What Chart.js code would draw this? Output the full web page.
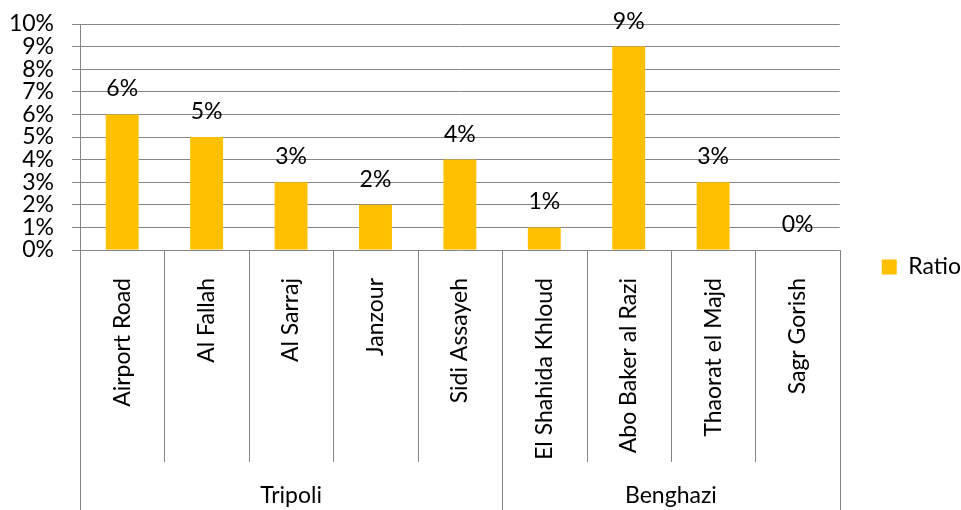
<!DOCTYPE html>
<html>
<head>
<meta charset="utf-8">
<script src="https://cdn.jsdelivr.net/npm/chart.js@4/dist/chart.umd.min.js"></script>
<style>
  html, body { margin: 0; padding: 0; background: #fff; }
  #wrap { width: 961px; height: 510px; }
</style>
</head>
<body>
<div id="wrap"><canvas id="c"></canvas></div>
<script>
// Districts, their share, and the city each block of districts belongs to
const categories = ['Airport Road', 'Al Fallah', 'Al Sarraj', 'Janzour', 'Sidi Assayeh',
                    'El Shahida Khloud', 'Abo Baker al Razi', 'Thaorat el Majd', 'Sagr Gorish'];
const ratioValues = [6, 5, 3, 2, 4, 1, 9, 3, 0];
const cityNames = ['Tripoli', 'Benghazi'];
const cityCounts = [5, 4];
const yTickValues = [0, 1, 2, 3, 4, 5, 6, 7, 8, 9, 10];

const FONT = 'Lato';
const FONT_SIZE = 23;
const GRID = '#868686';
const BAR = '#FFC000';
const LABEL_BAND = 212;   // height of the district-name band under the axis

// Value labels above each bar
const valueLabels = {
  id: 'valueLabels',
  afterDatasetsDraw(chart) {
    const { ctx } = chart;
    const meta = chart.getDatasetMeta(0);
    ctx.save();
    ctx.fillStyle = '#000';
    ctx.font = FONT_SIZE + 'px ' + FONT;
    ctx.textAlign = 'center';
    ctx.textBaseline = 'alphabetic';
    meta.data.forEach((bar, i) => {
      ctx.fillText(ratioValues[i] + '%', bar.x, bar.y - 18);
    });
    ctx.restore();
  }
};

// Category separators and the city grouping row
const cityGroups = {
  id: 'cityGroups',
  afterDraw(chart) {
    const { ctx, chartArea } = chart;
    const x = chart.scales.x;
    const half = (x.getPixelForValue(1) - x.getPixelForValue(0)) / 2;
    const edge = i => x.getPixelForValue(i) - half;
    const bounds = [0];
    cityCounts.forEach(c => bounds.push(bounds[bounds.length - 1] + c));
    const innerBottom = chartArea.bottom + LABEL_BAND;

    ctx.save();
    ctx.strokeStyle = GRID;
    ctx.lineWidth = 1;
    for (let i = 0; i <= categories.length; i++) {
      const px = Math.round(edge(i)) + 0.5;
      const bottom = bounds.includes(i) ? chart.height : innerBottom;
      ctx.beginPath();
      ctx.moveTo(px, chartArea.bottom);
      ctx.lineTo(px, bottom);
      ctx.stroke();
    }
    ctx.fillStyle = '#000';
    ctx.font = FONT_SIZE + 'px ' + FONT;
    ctx.textAlign = 'center';
    ctx.textBaseline = 'alphabetic';
    cityNames.forEach((name, g) => {
      const cx = (edge(bounds[g]) + edge(bounds[g + 1])) / 2;
      ctx.fillText(name, cx, chart.height - 7);
    });
    ctx.restore();
  }
};

new Chart(document.getElementById('c'), {
  type: 'bar',
  data: {
    labels: categories,
    datasets: [{
      label: 'Ratio',
      data: ratioValues,
      backgroundColor: BAR,
      borderWidth: 0,
      barPercentage: 0.78,
      categoryPercentage: 0.5
    }]
  },
  options: {
    responsive: true,
    maintainAspectRatio: false,
    animation: false,
    devicePixelRatio: 1,
    layout: { padding: { top: 24, right: -10, left: 0, bottom: 0 } },
    plugins: {
      legend: {
        position: 'right',
        labels: {
          boxWidth: 15,
          boxHeight: 15,
          padding: 42,
          color: '#000',
          font: { family: FONT, size: FONT_SIZE }
        }
      },
      tooltip: { enabled: false }
    },
    scales: {
      x: {
        grid: { display: false },
        border: { display: false },
        ticks: {
          autoSkip: false,
          minRotation: 90,
          maxRotation: 90,
          padding: 20,
          color: '#000',
          font: { family: FONT, size: FONT_SIZE }
        },
        afterFit(scale) {
          scale.height = 260;
          scale.paddingTop = 0;
          scale.paddingBottom = 0;
        }
      },
      y: {
        min: 0,
        max: 10,
        afterBuildTicks(scale) { scale.ticks = yTickValues.map(v => ({ value: v })); },
        grid: { color: GRID, lineWidth: 1, tickLength: 8, drawTicks: true },
        border: { color: GRID },
        ticks: {
          autoSkip: false,
          padding: 18,
          color: '#000',
          font: { family: FONT, size: FONT_SIZE },
          callback: v => v + '%'
        },
        afterFit(scale) {
          scale.width = 80;
          scale.paddingTop = 0;
          scale.paddingBottom = 0;
        }
      }
    }
  },
  plugins: [valueLabels, cityGroups]
});
</script>
</body>
</html>
